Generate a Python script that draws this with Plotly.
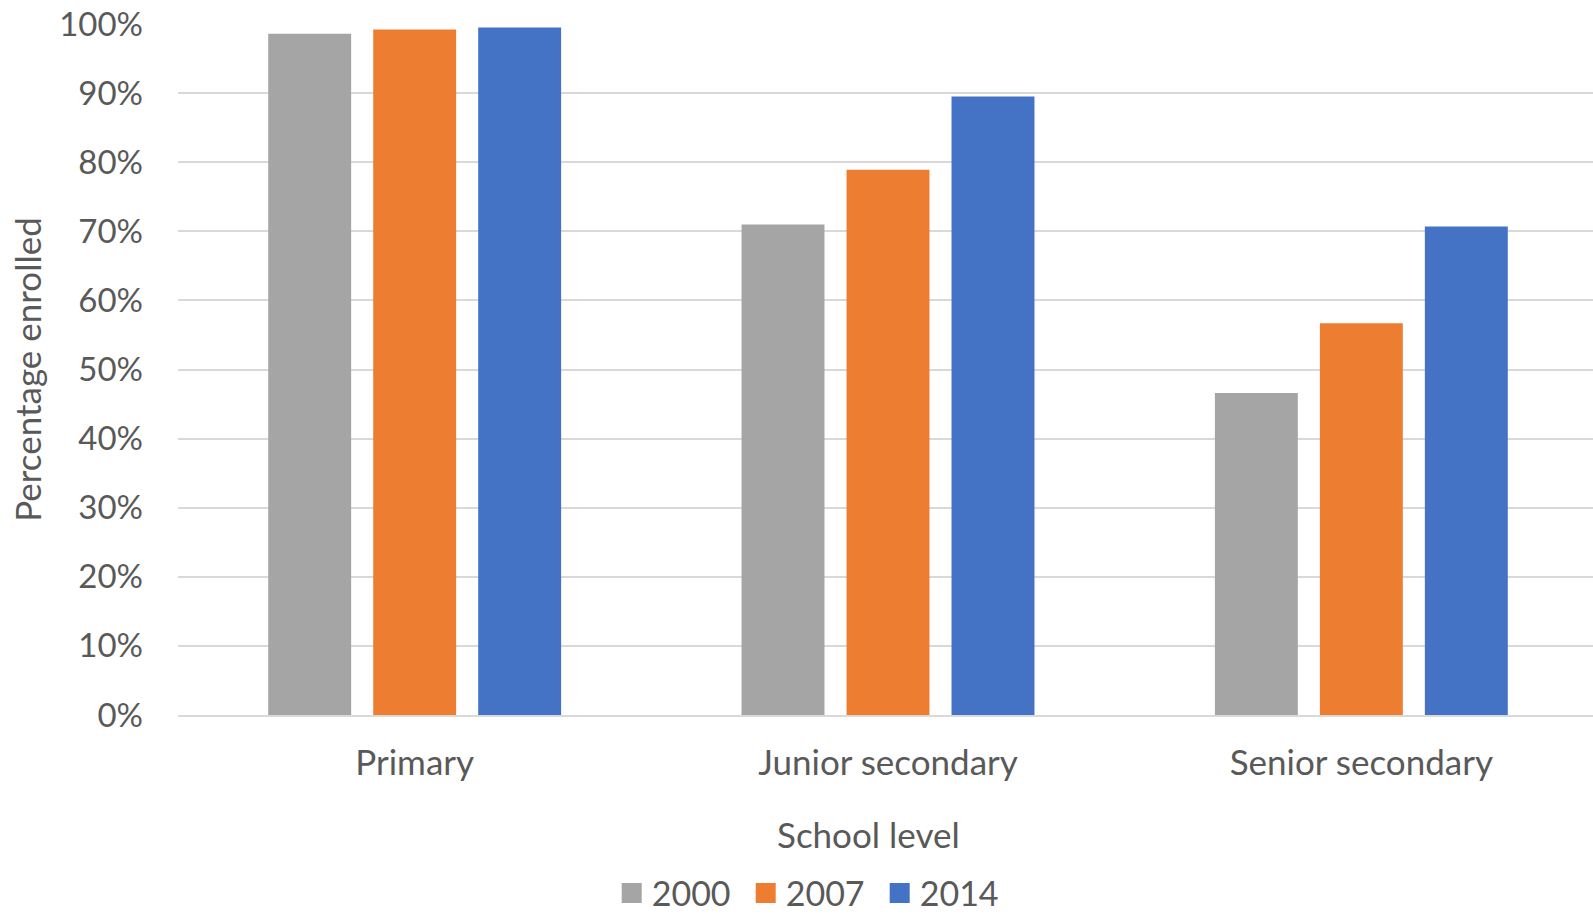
import plotly.graph_objects as go

# School enrolment rates by level and year
levels = ["Primary", "Junior secondary", "Senior secondary"]
years = ["2000", "2007", "2014"]
enrol_2000 = [0.986, 0.710, 0.466]
enrol_2007 = [0.992, 0.789, 0.567]
enrol_2014 = [0.995, 0.895, 0.707]
y_ticks = [0, 0.1, 0.2, 0.3, 0.4, 0.5, 0.6, 0.7, 0.8, 0.9, 1.0]

series = [enrol_2000, enrol_2007, enrol_2014]
colors = ["#A5A5A5", "#ED7D31", "#4472C4"]
font_family = "Lato, Calibri, Carlito, sans-serif"
text_color = "#595959"

fig = go.Figure()
for name, vals, col in zip(years, series, colors):
    fig.add_trace(go.Bar(x=levels, y=vals, name=name, marker_color=col,
                         marker_line_width=0, showlegend=False))
    # square legend swatch (outline widens it past the marker-size cap)
    fig.add_trace(go.Scatter(x=[None], y=[None], mode="markers", name=name,
                             marker=dict(symbol="square", size=16, color=col,
                                         line=dict(color=col, width=4))))

fig.update_layout(
    width=1593, height=915,
    margin=dict(l=178, r=0, t=24, b=200, autoexpand=False),
    paper_bgcolor="white", plot_bgcolor="white",
    barmode="group", bargap=0.3346, bargroupgap=0.21,
    font=dict(family=font_family, color=text_color, size=35),
    legend=dict(orientation="h", x=0.3065, xanchor="left", y=-0.258, yanchor="middle",
                font=dict(size=34, color=text_color), itemclick=False,
                tracegroupgap=0, itemwidth=30, entrywidth=89),
    annotations=[dict(text="School level", xref="paper", yref="paper",
                      x=0.4883, y=-0.1722, xanchor="center", yanchor="middle",
                      showarrow=False, font=dict(size=35, color=text_color))],
)
fig.update_xaxes(
    range=[-0.5, 2.4894],
    showgrid=False, showline=True, linecolor="#D9D9D9", linewidth=2,
    ticks="", ticklabelstandoff=16, tickfont=dict(size=35, color=text_color),
    automargin=False,
)
fig.update_yaxes(
    range=[0, 1.0], tickvals=y_ticks, tickformat=".0%",
    showgrid=True, gridcolor="#D9D9D9", gridwidth=2, zeroline=False,
    ticks="", ticklabelstandoff=34, tickfont=dict(size=33, color=text_color),
    title=dict(text="Percentage enrolled", standoff=6, font=dict(size=35, color=text_color)),
    automargin=False,
)

fig.write_html("out.html")
